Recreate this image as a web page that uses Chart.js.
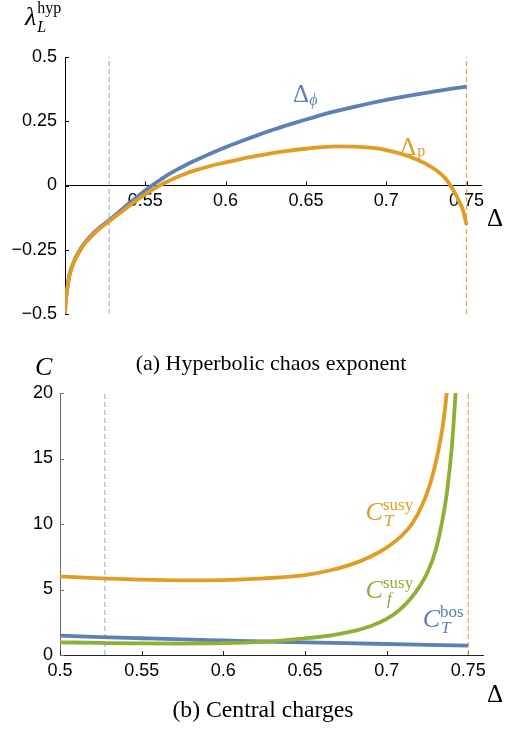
<!DOCTYPE html>
<html><head><meta charset="utf-8">
<script src="https://cdn.jsdelivr.net/npm/chart.js@4.4.1/dist/chart.umd.min.js"></script>
<style>
html,body{margin:0;padding:0;background:#fff;}
body{width:505px;height:731px;position:relative;overflow:hidden;}
#c1{position:absolute;left:0;top:0;}
#c2{position:absolute;left:0;top:340px;}
.cap{position:absolute;font-family:"Liberation Serif","Times New Roman",serif;white-space:nowrap;transform:translateX(-50%);line-height:1;color:#000;}
</style></head><body>
<canvas id="c1" width="505" height="335"></canvas>
<canvas id="c2" width="505" height="391"></canvas>
<div class="cap" style="left:271px;top:352px;font-size:22px">(a) Hyperbolic chaos exponent</div>
<div class="cap" style="left:263px;top:698px;font-size:23.7px">(b) Central charges</div>
<script>
// ---------- data ----------
const topXTicks = [0.55, 0.6, 0.65, 0.7, 0.75];
const topYTicks = [-0.5, -0.25, 0, 0.25, 0.5];
const botXTicks = [0.5, 0.55, 0.6, 0.65, 0.7, 0.75];
const botYTicks = [0, 5, 10, 15, 20];
const thresholds = [0.5275, 0.75];

const deltaPhiX = [0.5, 0.5003, 0.501, 0.5025, 0.505, 0.51, 0.515, 0.52, 0.5275, 0.535, 0.545, 0.553, 0.56, 0.565, 0.57, 0.575, 0.58, 0.59, 0.6, 0.61, 0.62, 0.63, 0.64, 0.65, 0.66, 0.67, 0.68, 0.69, 0.7, 0.71, 0.72, 0.73, 0.74, 0.75];
const deltaPhiY = [-0.5, -0.46, -0.42, -0.355, -0.303, -0.243, -0.203, -0.172, -0.135, -0.095, -0.044, -0.005, 0.025, 0.045, 0.0625, 0.079, 0.0945, 0.123, 0.149, 0.173, 0.196, 0.218, 0.238, 0.257, 0.275, 0.291, 0.306, 0.32, 0.333, 0.345, 0.356, 0.366, 0.376, 0.385];

const deltaPX = [0.5, 0.5003, 0.501, 0.5025, 0.505, 0.51, 0.515, 0.52, 0.5275, 0.535, 0.545, 0.55, 0.555, 0.56, 0.565, 0.57, 0.575, 0.58, 0.59, 0.6, 0.61, 0.62, 0.63, 0.64, 0.65, 0.66, 0.67, 0.68, 0.69, 0.7, 0.71, 0.715, 0.72, 0.725, 0.73, 0.734, 0.737, 0.74, 0.743, 0.746, 0.748, 0.75];
const deltaPY = [-0.5, -0.462, -0.423, -0.36, -0.307, -0.247, -0.207, -0.176, -0.139, -0.103, -0.056, -0.035, -0.014, 0.004, 0.019, 0.033, 0.046, 0.057, 0.075, 0.09, 0.104, 0.116, 0.127, 0.136, 0.143, 0.149, 0.152, 0.151, 0.147, 0.138, 0.122, 0.111, 0.098, 0.083, 0.064, 0.045, 0.026, 0.0, -0.032, -0.07, -0.1, -0.153];

const cTsusyX = [0.5, 0.525, 0.55, 0.575, 0.6, 0.625, 0.65, 0.665, 0.678, 0.69, 0.7, 0.71, 0.716, 0.722, 0.727, 0.731, 0.7345, 0.737];
const cTsusyY = [6.0, 5.85, 5.75, 5.7, 5.72, 5.85, 6.1, 6.45, 6.9, 7.5, 8.2, 9.2, 10.1, 11.5, 13.2, 15.2, 17.6, 20.2];

const cFsusyX = [0.5, 0.525, 0.55, 0.575, 0.6, 0.625, 0.65, 0.665, 0.678, 0.69, 0.7, 0.708, 0.715, 0.72, 0.725, 0.73, 0.734, 0.737, 0.74, 0.7425];
const cFsusyY = [0.97, 0.92, 0.88, 0.87, 0.9, 1.02, 1.27, 1.48, 1.78, 2.2, 2.75, 3.45, 4.35, 5.2, 6.3, 8.0, 10.2, 12.5, 16, 20.5];

const cTbosX = [0.5, 0.525, 0.55, 0.575, 0.6, 0.625, 0.65, 0.675, 0.7, 0.725, 0.75];
const cTbosY = [1.48, 1.37, 1.28, 1.19, 1.11, 1.03, 0.96, 0.9, 0.84, 0.78, 0.72];

// ---------- styling ----------
const BLUE = '#5E81B5', ORANGE = '#E19C24', GREEN = '#8FB032';
const SERIF = '"Liberation Serif","Times New Roman",serif';
const SANS = '"Liberation Sans",Arial,sans-serif';

function pts(xs, ys) { return xs.map((x, i) => ({x: x, y: ys[i]})); }
function fmt(v) { return (v < 0 ? '\u2212' : '') + String(Math.abs(v)); }

function curve(label, xs, ys, color, order) {
  return {label, data: pts(xs, ys), borderColor: color, borderWidth: 3.8, pointRadius: 0,
    cubicInterpolationMode: 'monotone', fill: false, order, borderCapStyle: 'butt', borderJoinStyle: 'round'};
}
function vline(x, yRange, color, order) {
  return {label: 'th' + x, data: [{x: x, y: yRange[0]}, {x: x, y: yRange[yRange.length - 1]}],
    borderColor: color, borderWidth: 1.2, borderDash: [5, 3], pointRadius: 0, fill: false, order};
}

const tickMarks = {
  id: 'tickMarks',
  beforeDatasetsDraw(chart, args, opts) {
    const ctx = chart.ctx, xs = chart.scales.x, ys = chart.scales.y;
    const axisY = opts.xAt !== undefined ? ys.getPixelForValue(opts.xAt) : ys.bottom;
    ctx.save(); ctx.lineWidth = 1;
    ctx.strokeStyle = opts.yColor;
    ys.ticks.forEach(t => {
      const py = Math.round(ys.getPixelForValue(t.value)) + 0.5;
      ctx.beginPath(); ctx.moveTo(xs.left, py); ctx.lineTo(xs.left + opts.len, py); ctx.stroke();
    });
    ctx.strokeStyle = opts.xColor;
    xs.ticks.forEach(t => {
      const px = Math.round(xs.getPixelForValue(t.value)) + 0.5;
      ctx.beginPath(); ctx.moveTo(px, axisY); ctx.lineTo(px, axisY - opts.len); ctx.stroke();
    });
    ctx.restore();
  }
};

const mathLabels = {
  id: 'mathLabels',
  afterDatasetsDraw(chart, args, opts) {
    const ctx = chart.ctx, xs = chart.scales.x, ys = chart.scales.y, ca = chart.chartArea;
    (opts.items || []).forEach(it => {
      const x = (typeof it.ax === 'number' ? xs.getPixelForValue(it.ax) : ca[it.ax]) + (it.dx || 0);
      const y = (typeof it.ay === 'number' ? ys.getPixelForValue(it.ay) : ca[it.ay]) + (it.dy || 0);
      ctx.save();
      ctx.fillStyle = it.color; ctx.textBaseline = 'alphabetic'; ctx.textAlign = 'left';
      ctx.font = it.font; ctx.fillText(it.base, x, y);
      const w = ctx.measureText(it.base).width;
      if (it.sup) { ctx.font = it.supFont; ctx.fillText(it.sup, x + w + (it.supDx || 0), y + it.supDy); }
      if (it.sub) { ctx.font = it.subFont; ctx.fillText(it.sub, x + w + (it.subDx || 0), y + it.subDy); }
      ctx.restore();
    });
  }
};

function axisOpts(min, max, ticksArr, borderColor, padding, fit) {
  return {
    type: 'linear', min, max,
    afterBuildTicks: s => { s.ticks = ticksArr.map(v => ({value: v})); },
    afterFit: fit,
    grid: {display: false, drawTicks: false, drawOnChartArea: false},
    border: {display: true, color: borderColor, width: 1},
    ticks: {color: '#000', font: {family: SANS, size: 18}, padding, callback: v => fmt(v), autoSkip: false, maxRotation: 0}
  };
}

const topRange = [-0.5, 0.5];
const botRange = [0, 20];

new Chart(document.getElementById('c1'), {
  type: 'line',
  data: {datasets: [
    curve('Δp', deltaPX, deltaPY, ORANGE, 1),
    curve('Δϕ', deltaPhiX, deltaPhiY, BLUE, 2),
    vline(thresholds[0], topRange, 'rgba(94,129,181,0.6)', 3),
    vline(thresholds[1], topRange, 'rgba(225,156,36,0.85)', 3)
  ]},
  options: {
    responsive: false, animation: false, devicePixelRatio: 1,
    layout: {padding: {top: 57, right: 24, bottom: 21, left: 0}},
    scales: {
      x: Object.assign(axisOpts(0.5, 0.759, topXTicks, '#000', 5, s => { s.height = 0; }), {position: {y: 0}}),
      y: axisOpts(topRange[0], topRange[1], topYTicks, '#000', 8, s => { s.width = 65; })
    },
    plugins: {
      legend: {display: false}, tooltip: {enabled: false},
      tickMarks: {len: 4, xColor: '#000', yColor: '#000', xAt: 0},
      mathLabels: {items: [
        {ax: 0.642, ay: 0.323, base: 'Δ', font: '25px ' + SERIF, sub: 'ϕ', subFont: 'italic 16px ' + SERIF, subDy: 3, subDx: 0, color: BLUE},
        {ax: 0.7086, ay: 0.1206, base: 'Δ', font: '25px ' + SERIF, sub: 'p', subFont: '16px ' + SERIF, subDy: 1, subDx: 1, color: ORANGE},
        {ax: 'left', ay: 'top', dx: -40, dy: -32, base: 'λ', font: 'italic 26px ' + SERIF, sup: 'hyp', supFont: '16px ' + SERIF, supDy: -12, supDx: 1, sub: 'L', subFont: 'italic 16px ' + SERIF, subDy: 7, subDx: 1, color: '#000'},
        {ax: 'right', ay: 0, dx: 6, dy: 40, base: 'Δ', font: '25px ' + SERIF, color: '#000'}
      ]}
    }
  },
  plugins: [tickMarks, mathLabels]
});

new Chart(document.getElementById('c2'), {
  type: 'line',
  data: {datasets: [
    curve('Cf susy', cFsusyX, cFsusyY, GREEN, 1),
    curve('CT susy', cTsusyX, cTsusyY, ORANGE, 2),
    curve('CT bos', cTbosX, cTbosY, BLUE, 3),
    vline(thresholds[0], botRange, 'rgba(94,129,181,0.6)', 4),
    vline(thresholds[1], botRange, 'rgba(225,156,36,0.85)', 4)
  ]},
  options: {
    responsive: false, animation: false, devicePixelRatio: 1,
    layout: {padding: {top: 53, right: 22, bottom: 0, left: 0}},
    datasets: {line: {clip: 0}},
    scales: {
      x: axisOpts(0.5, 0.759, botXTicks, '#222', 5, s => { s.height = 76; }),
      y: axisOpts(botRange[0], botRange[1], botYTicks, '#6b6b6b', 7, s => { s.width = 60; })
    },
    plugins: {
      legend: {display: false}, tooltip: {enabled: false},
      tickMarks: {len: 4, xColor: '#222', yColor: '#6b6b6b'},
      mathLabels: {items: [
        {ax: 0.6871, ay: 10.31, base: 'C', font: 'italic 26px ' + SERIF, sup: 'susy', supFont: '17px ' + SERIF, supDy: -10, supDx: 0, sub: 'T', subFont: 'italic 17px ' + SERIF, subDy: 6, subDx: 1, color: ORANGE},
        {ax: 0.6871, ay: 4.35, base: 'C', font: 'italic 26px ' + SERIF, sup: 'susy', supFont: '17px ' + SERIF, supDy: -10, supDx: 0, sub: 'f', subFont: 'italic 17px ' + SERIF, subDy: 6, subDx: 4, color: GREEN},
        {ax: 0.7221, ay: 2.14, base: 'C', font: 'italic 26px ' + SERIF, sup: 'bos', supFont: '17px ' + SERIF, supDy: -10, supDx: 0, sub: 'T', subFont: 'italic 17px ' + SERIF, subDy: 6, subDx: 1, color: BLUE},
        {ax: 'left', ay: 'top', dx: -25, dy: -18, base: 'C', font: 'italic 26px ' + SERIF, color: '#000'},
        {ax: 'right', ay: 'bottom', dx: 4, dy: 47, base: 'Δ', font: '25px ' + SERIF, color: '#000'}
      ]}
    }
  },
  plugins: [tickMarks, mathLabels]
});
</script>
</body></html>
